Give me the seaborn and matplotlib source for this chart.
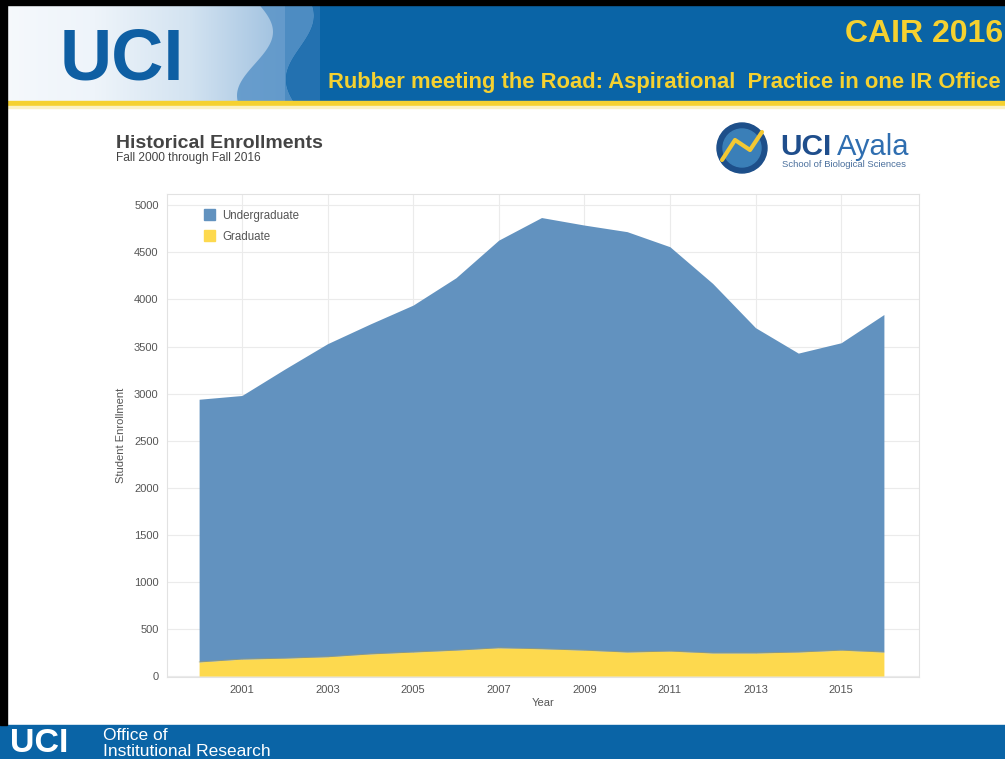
import numpy as np
import pandas as pd
import matplotlib
matplotlib.use("Agg")
import matplotlib.pyplot as plt
from matplotlib.patches import Rectangle, Polygon, Circle
from matplotlib.colors import LinearSegmentedColormap
import seaborn as sns

# Enrollment by fall term
years = [2000, 2001, 2002, 2003, 2004, 2005, 2006, 2007, 2008,
         2009, 2010, 2011, 2012, 2013, 2014, 2015, 2016]
graduate = [150, 180, 190, 205, 235, 255, 275, 300, 290,
            275, 255, 265, 245, 245, 255, 275, 255]
total = [2940, 2980, 3260, 3530, 3740, 3940, 4230, 4630, 4870,
         4790, 4720, 4560, 4170, 3700, 3430, 3540, 3840]
undergraduate = [t - g for t, g in zip(total, graduate)]

series_labels = ["Undergraduate", "Graduate"]
year_ticks = [2001, 2003, 2005, 2007, 2009, 2011, 2013, 2015]
enroll_ticks = [0, 500, 1000, 1500, 2000, 2500, 3000, 3500, 4000, 4500, 5000]

df = pd.DataFrame({"Year": years, "Graduate": graduate,
                   "Undergraduate": undergraduate})
df["Total"] = df["Graduate"] + df["Undergraduate"]

sns.set_theme(style="whitegrid")
plt.rcParams["font.family"] = ["Liberation Sans", "DejaVu Sans"]

W, H = 1005, 759
fig = plt.figure(figsize=(W / 100, H / 100), dpi=100)
fig.patch.set_facecolor("white")

# ---- slide frame (pixel coordinates) ----
deco = fig.add_axes([0, 0, 1, 1])
deco.set_xlim(0, W)
deco.set_ylim(H, 0)
deco.axis("off")

UCI_BLUE = "#0a64a6"
GOLD = "#f5d130"

# header band
deco.add_patch(Rectangle((0, 0), W, 102, color=UCI_BLUE, zorder=1))
grad = np.linspace(0, 1, 256)[None, :]
cm_head = LinearSegmentedColormap.from_list(
    "head", ["#f6f9fc", "#eef4fa", "#d3e3f1", "#9ec0df"])
deco.imshow(grad, extent=(0, 285, 102, 0), cmap=cm_head, aspect="auto", zorder=2)
# wave shape
t = np.linspace(0, 1, 60)
wave_x1 = 255 + 18 * np.sin(t * np.pi * 1.6)
wave_x2 = 300 + 14 * np.sin(t * np.pi * 1.6 + 0.8)
yy = 102 * t
deco.add_patch(Polygon(np.column_stack([np.r_[wave_x1, wave_x2[::-1]],
                                        np.r_[yy, yy[::-1]]]),
                       closed=True, color="#5a94c8", alpha=0.85, zorder=3, lw=0))
deco.add_patch(Polygon(np.column_stack([np.r_[wave_x2, np.full(60, 320)[::-1]],
                                        np.r_[yy, yy[::-1]]]),
                       closed=True, color="#2371b0", zorder=3, lw=0))
deco.add_patch(Rectangle((0, 101), W, 5, color=GOLD, zorder=4))
deco.add_patch(Rectangle((0, 106), W, 2, color="#fbf1c4", zorder=4))

deco.text(122, 80, "UCI", color="#0f5fa3", fontsize=52, fontweight="bold",
          ha="center", va="baseline", zorder=5)
deco.text(1003, 42, "CAIR 2016", color=GOLD, fontsize=23, fontweight="bold",
          ha="right", va="baseline", zorder=5)
deco.text(328, 88, "Rubber meeting the Road: Aspirational  Practice in one IR Office",
          color=GOLD, fontsize=15.8, fontweight="bold", ha="left", va="baseline",
          zorder=5)

# footer band
deco.add_patch(Rectangle((0, 725), W, H - 725, color=UCI_BLUE, zorder=1))
deco.text(10, 759, "UCI", color="white", fontsize=24.5, fontweight="bold",
          ha="left", va="bottom", zorder=5)
deco.text(103, 740, "Office of", color="white", fontsize=12.5,
          ha="left", va="baseline", zorder=5)
deco.text(103, 756, "Institutional Research", color="white", fontsize=12.5,
          ha="left", va="baseline", zorder=5)

# black frame edges
deco.add_patch(Rectangle((0, 0), W, 5, color="black", zorder=6))
deco.add_patch(Rectangle((0, 0), 7, 725, color="black", zorder=6))

# chart title block
deco.text(116, 148, "Historical Enrollments", color="#444444", fontsize=14,
          fontweight="bold", ha="left", va="baseline", zorder=5)
deco.text(116, 161, "Fall 2000 through Fall 2016", color="#444444", fontsize=8.6,
          ha="left", va="baseline", zorder=5)

# school mark
deco.add_patch(Circle((742, 148), 25, color="#1d4f8a", zorder=5))
deco.add_patch(Circle((742, 148), 19, color="#3a7fb8", zorder=5))
deco.plot([722, 735, 750, 762], [160, 140, 150, 132], color="#f3c832", lw=3,
          zorder=6, solid_capstyle="round")
deco.text(780, 155, "UCI", color="#1f4e8c", fontsize=21.5, fontweight="bold",
          ha="left", va="baseline", zorder=5)
deco.text(837, 155, "Ayala", color="#2f6eb0", fontsize=21,
          ha="left", va="baseline", zorder=5)
deco.text(782, 167, "School of Biological Sciences", color="#4a6f9c", fontsize=6.8,
          ha="left", va="baseline", zorder=5)

# ---- enrollment chart ----
ax = fig.add_axes([167 / W, 1 - 677 / H, (919 - 167) / W, (677 - 194) / H])
ax.set_facecolor("white")

UG_COLOR = "#6292bf"
GR_COLOR = "#fdd94e"

ax.fill_between(df["Year"], 0, df["Graduate"], color=GR_COLOR, lw=0,
                label="Graduate", zorder=2)
ax.fill_between(df["Year"], df["Graduate"], df["Total"], color=UG_COLOR, lw=0,
                label="Undergraduate", zorder=2)
sns.lineplot(data=df, x="Year", y="Graduate", ax=ax, color="#b4a04a",
             lw=0.6, alpha=0.6, zorder=3)

ax.set_xlim(1999.25, 2016.82)
ax.set_ylim(-10, 5120)
ax.set_xticks(year_ticks)
ax.set_xticklabels([str(y) for y in year_ticks])
ax.set_yticks(enroll_ticks)
ax.grid(True, color="#ebebeb", lw=0.8)
ax.set_axisbelow(True)
for s in ax.spines.values():
    s.set_color("#e2e2e2")
    s.set_linewidth(0.8)
ax.tick_params(axis="both", labelsize=8, colors="#555555", length=0, pad=6)
ax.set_xlabel("Year", fontsize=8, color="#555555", labelpad=2)
ax.set_ylabel("Student Enrollment", fontsize=8, color="#555555", labelpad=6)

handles = [Rectangle((0, 0), 1, 1, color=UG_COLOR),
           Rectangle((0, 0), 1, 1, color=GR_COLOR)]
leg = ax.legend(handles, series_labels, loc="upper left",
                bbox_to_anchor=(0.035, 0.99), frameon=False, fontsize=8.3,
                handlelength=1.0, handleheight=1.1, labelspacing=0.75,
                handletextpad=0.6)
for txt in leg.get_texts():
    txt.set_color("#555555")

fig.savefig("out.png", dpi=100, facecolor="white")
